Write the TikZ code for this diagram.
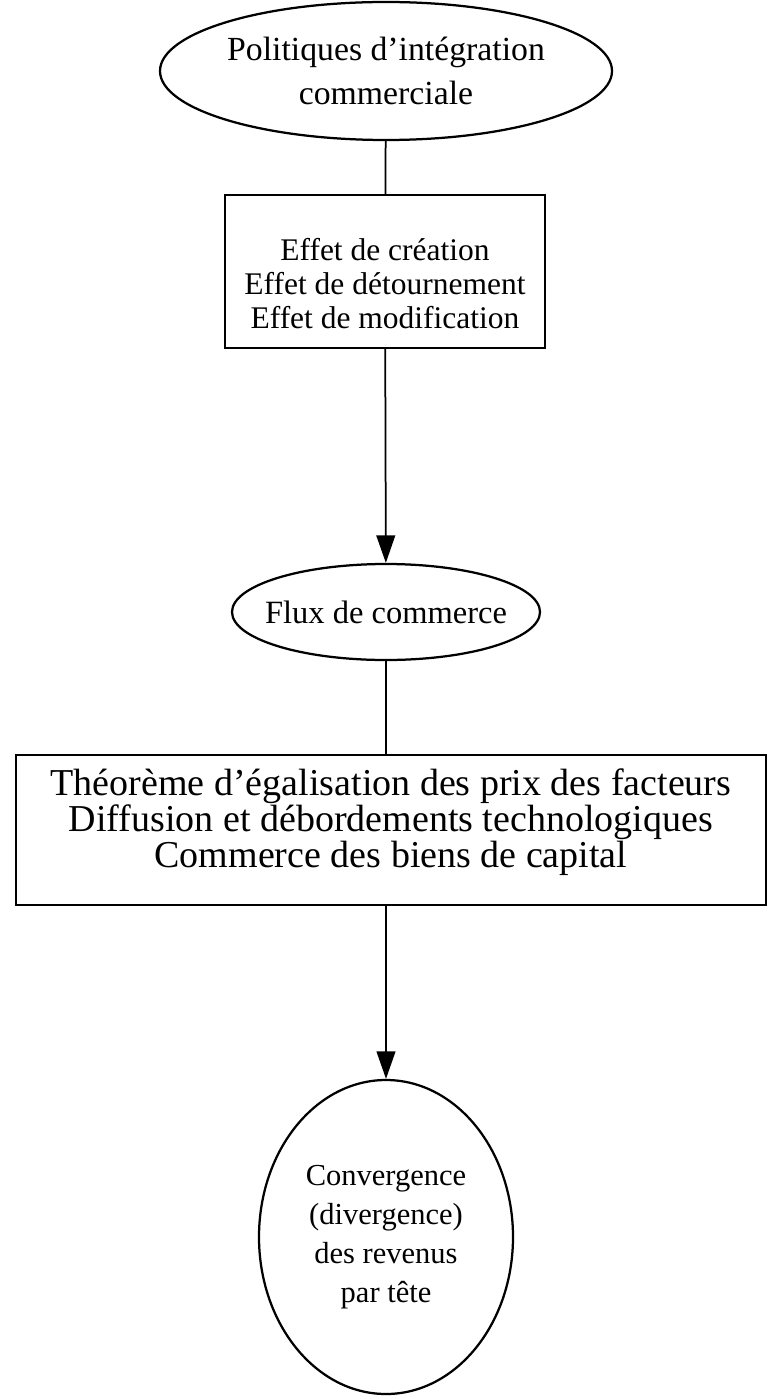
\documentclass[tikz,border=0pt]{standalone}
\usepackage{fontspec}
\setmainfont{Liberation Serif}
\usepackage{tikz}
\usetikzlibrary{arrows.meta}
\usetikzlibrary{shapes.geometric}
\tikzset{
  oval/.style={draw, ellipse, line width=.9pt, inner sep=0, align=center},
  box/.style={draw, rectangle, line width=.9pt, inner sep=0, align=center},
  link/.style={line width=.7pt},
  flow/.style={line width=.7pt, -{Triangle[length=11pt,width=7.5pt]}}
}

\begin{document}
\begin{tikzpicture}[x=.4pt, y=-.4pt]
\useasboundingbox (0,0) rectangle (767,1399);
\node[oval, minimum width=180.8pt, minimum height=55.2pt, font=\fontsize{13.5}{17.6}\selectfont] (politiques) at (386,71)
  {Politiques d'intégration\\commerciale};
\node[box, minimum width=128pt, minimum height=61.2pt, font=\fontsize{12.6}{13.6}\selectfont] (effets) at (385,271.5)
  {\mbox{}\\[5.2pt]Effet de création\\Effet de détournement\\Effet de modification};
\node[oval, minimum width=123.2pt, minimum height=38.4pt, inner xsep=-5pt, font=\fontsize{13}{15}\selectfont] (flux) at (386,612)
  {Flux de commerce};
\node[box, minimum width=300pt, minimum height=60pt, font=\fontsize{15.2}{14.4}\selectfont] (canaux) at (391,830)
  {Théorème d'égalisation des prix des facteurs\\Diffusion et débordements technologiques\\Commerce des biens de capital\\[-4.5pt]\mbox{}};
\node[oval, minimum width=101.6pt, minimum height=125.6pt, font=\fontsize{12.2}{15.6}\selectfont] (convergence) at (386,1237)
  {Convergence\\(divergence)\\des revenus\\par tête};
\draw[link] (politiques) -- (effets);
\draw[flow] (effets) -- (flux);
\draw[link] (flux) -- (canaux.north -| flux);
\draw[flow] (canaux.south -| convergence) -- (convergence);
\end{tikzpicture}
\end{document}
